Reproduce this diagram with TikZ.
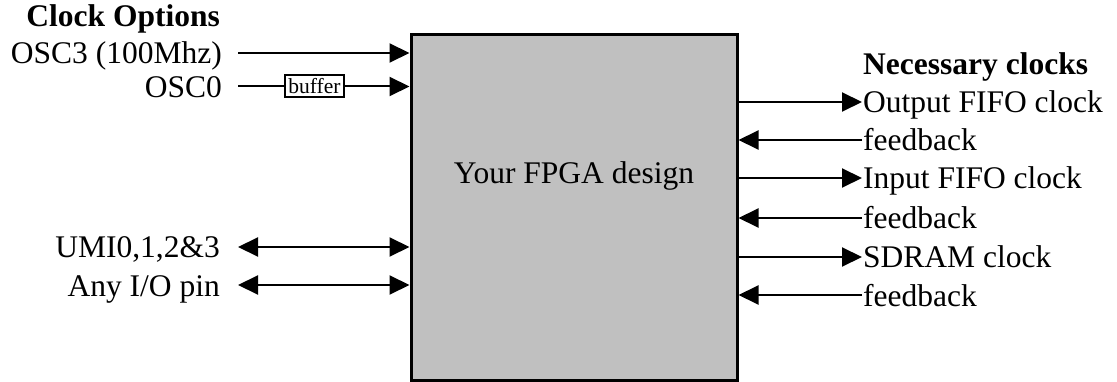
\documentclass[tikz,border=0pt]{standalone}
\usepackage{fontspec}
\setmainfont{Liberation Serif}
\usetikzlibrary{arrows.meta}
\definecolor{boxgray}{RGB}{192,192,192}
\begin{document}
\begin{tikzpicture}[x=1pt,y=-1pt,
  lbl/.style={inner sep=0pt, font=\fontsize{31.5}{36}\selectfont},
  hdr/.style={inner sep=0pt, font=\fontsize{31.5}{36}\selectfont\bfseries},
  wire/.style={line width=2pt},
  arr/.style={wire,-{Triangle[length=20pt,width=19pt]}},
  darr/.style={wire,{Triangle[length=20pt,width=19pt]}-{Triangle[length=20pt,width=19pt]}},
]
\useasboundingbox (0,0) rectangle (1117,382);
% main block
\node[draw, line width=3pt, fill=boxgray, minimum width=326pt, minimum height=345pt, inner sep=0pt] (fpga) at (574,207.5) {};
\node[lbl, anchor=base] (fpgatxt) at (574,184) {Your FPGA design};
% left side
\node[hdr, anchor=base east] (clk) at (220,27) {Clock Options};
\node[lbl, anchor=base east] (osc3) at (222,64) {OSC3 (100Mhz)};
\coordinate (osc3s) at (238,53);
\draw[arr] (osc3s) -- (osc3s -| fpga.west);
\node[lbl, anchor=base east] (osc0) at (222,98) {OSC0};
\node[draw, line width=2pt, minimum width=59pt, minimum height=22pt, inner sep=0pt, font=\fontsize{21.5}{24}\selectfont] (buf) at (314.5,86.5) {buffer};
\coordinate (osc0s) at (238,86.5);
\draw[wire] (osc0s) -- (buf.west);
\draw[arr] (buf.east) -- (buf.east -| fpga.west);
\node[lbl, anchor=base east] (umi) at (220,258) {UMI0,1,2\&3};
\coordinate (umis) at (238,247);
\draw[darr] (umis) -- (umis -| fpga.west);
\node[lbl, anchor=base east] (anyio) at (220,296) {Any I/O pin};
\coordinate (anyios) at (238,285);
\draw[darr] (anyios) -- (anyios -| fpga.west);
% right side
\node[hdr, anchor=base west] (nec) at (863,75) {Necessary clocks};
\node[lbl, anchor=base west] (ofifo) at (863,113) {Output FIFO clock};
\coordinate (ofifoe) at (862,102);
\draw[arr] (ofifoe -| fpga.east) -- (ofifoe);
\node[lbl, anchor=base west] (fb1) at (863,151) {feedback};
\coordinate (fb1s) at (862,140);
\draw[arr] (fb1s) -- (fb1s -| fpga.east);
\node[lbl, anchor=base west] (ififo) at (863,189) {Input FIFO clock};
\coordinate (ififoe) at (862,178);
\draw[arr] (ififoe -| fpga.east) -- (ififoe);
\node[lbl, anchor=base west] (fb2) at (863,229) {feedback};
\coordinate (fb2s) at (862,218);
\draw[arr] (fb2s) -- (fb2s -| fpga.east);
\node[lbl, anchor=base west] (sdram) at (863,268) {SDRAM clock};
\coordinate (sdrame) at (862,257);
\draw[arr] (sdrame -| fpga.east) -- (sdrame);
\node[lbl, anchor=base west] (fb3) at (863,306) {feedback};
\coordinate (fb3s) at (862,295);
\draw[arr] (fb3s) -- (fb3s -| fpga.east);
\end{tikzpicture}
\end{document}
